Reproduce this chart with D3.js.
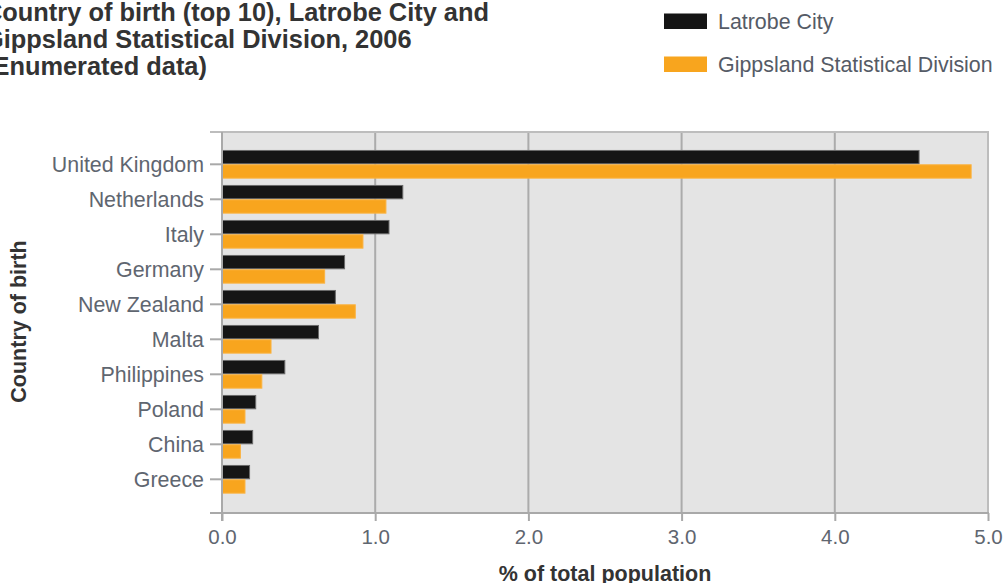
<!DOCTYPE html>
<html>
<head>
<meta charset="utf-8">
<script src="https://cdn.jsdelivr.net/npm/d3@7"></script>
<style>
  html, body { margin: 0; padding: 0; background: #fff; overflow: hidden; }
  svg { display: block; }
</style>
</head>
<body>
<svg id="chart" width="1005" height="583"></svg>
<script>
const titleLines = ["Country of birth (top 10), Latrobe City and", "Gippsland Statistical Division, 2006", "(Enumerated data)"];
const categories = ["United Kingdom", "Netherlands", "Italy", "Germany", "New Zealand", "Malta", "Philippines", "Poland", "China", "Greece"];
const seriesNames = ["Latrobe City", "Gippsland Statistical Division"];
const latrobe = [4.55, 1.18, 1.09, 0.80, 0.74, 0.63, 0.41, 0.22, 0.20, 0.18];
const gippsland = [4.89, 1.07, 0.92, 0.67, 0.87, 0.32, 0.26, 0.15, 0.12, 0.15];
const xTicks = [0, 1, 2, 3, 4, 5];
const colors = ["#151515", "#f8a51e"];
const strokes = ["#6a6a6a", "#fbb341"];
const xTitle = "% of total population";
const yTitle = "Country of birth";

const svg = d3.select("#chart");
const plot = { left: 222, right: 988, top: 132, bottom: 513 };

const x = d3.scaleLinear().domain([0, 5]).range([plot.left, plot.right]);
const y = d3.scaleBand().domain(categories).range([146.8, 496.8]).padding(0);
const ySub = d3.scaleBand().domain(seriesNames).range([0, y.bandwidth()]).paddingOuter(0.22).paddingInner(0);

const font = "'Liberation Sans', Arial, sans-serif";

// plot background
svg.append("rect")
  .attr("x", plot.left).attr("y", plot.top)
  .attr("width", plot.right - plot.left).attr("height", plot.bottom - plot.top)
  .attr("fill", "#e4e4e4");

// vertical gridlines
svg.append("g").selectAll("line").data(xTicks).join("line")
  .attr("x1", d => x(d)).attr("x2", d => x(d))
  .attr("y1", plot.top).attr("y2", plot.bottom)
  .attr("stroke", "#ababab").attr("stroke-width", 2);

// top border & right border
svg.append("line").attr("x1", 210).attr("x2", plot.right + 1)
  .attr("y1", plot.top).attr("y2", plot.top)
  .attr("stroke", "#bdbdbd").attr("stroke-width", 2);
svg.append("line").attr("x1", plot.right).attr("x2", plot.right)
  .attr("y1", plot.top).attr("y2", plot.bottom)
  .attr("stroke", "#bdbdbd").attr("stroke-width", 2);

// bars
const data = categories.map((c, i) => ({ cat: c, vals: [latrobe[i], gippsland[i]] }));
const groups = svg.append("g").selectAll("g").data(data).join("g")
  .attr("transform", d => `translate(0,${y(d.cat)})`);
groups.selectAll("rect").data(d => d.vals.map((v, j) => ({ v, s: seriesNames[j], j })))
  .join("rect")
  .attr("x", x(0) + 0.5)
  .attr("y", d => ySub(d.s) + 0.5)
  .attr("width", d => x(d.v) - x(0) - 0.5)
  .attr("height", ySub.bandwidth() - 1)
  .attr("fill", d => colors[d.j])
  .attr("stroke", d => strokes[d.j])
  .attr("stroke-width", 1);

// x axis
const xAxis = d3.axisBottom(x).tickValues(xTicks).tickFormat(d3.format(".1f")).tickSize(8).tickPadding(8);
const gx = svg.append("g").attr("transform", `translate(0,${plot.bottom})`).call(xAxis);
gx.select(".domain").remove();
gx.append("line").attr("x1", 210).attr("x2", plot.right + 1).attr("y1", 0).attr("y2", 0)
  .attr("stroke", "#a9a9a9").attr("stroke-width", 2);
gx.selectAll(".tick line").attr("stroke", "#a9a9a9").attr("stroke-width", 2);
gx.selectAll(".tick text").attr("fill", "#5f6670").attr("font-family", font).attr("font-size", 20.5);

// y axis
const yAxis = d3.axisLeft(y).tickSize(12).tickPadding(6);
const gy = svg.append("g").attr("transform", `translate(${plot.left},0)`).call(yAxis);
gy.select(".domain").remove();
gy.append("line").attr("x1", 0).attr("x2", 0).attr("y1", plot.top).attr("y2", plot.bottom + 8)
  .attr("stroke", "#a9a9a9").attr("stroke-width", 2);
gy.selectAll(".tick line").attr("stroke", "#a9a9a9").attr("stroke-width", 2);
gy.selectAll(".tick text").attr("fill", "#5f6670").attr("font-family", font).attr("font-size", 21.4)
  .attr("dy", "0.35em");

// axis titles
svg.append("text").attr("x", (plot.left + plot.right) / 2).attr("y", 581)
  .attr("text-anchor", "middle").attr("font-family", font).attr("font-weight", "bold")
  .attr("font-size", 21.5).attr("fill", "#333").text(xTitle);
svg.append("text").attr("transform", `translate(26,${(plot.top + plot.bottom) / 2 - 1}) rotate(-90)`)
  .attr("text-anchor", "middle").attr("font-family", font).attr("font-weight", "bold")
  .attr("font-size", 21.5).attr("fill", "#333").text(yTitle);

// title
svg.append("g").selectAll("text").data(titleLines).join("text")
  .attr("x", -16).attr("y", (d, i) => 21 + i * 27)
  .attr("font-family", font).attr("font-weight", "bold").attr("font-size", 25.4)
  .attr("fill", "#333").text(d => d);

// legend
const legendY = [13.5, 56.5];
const lg = svg.append("g").selectAll("g").data(seriesNames).join("g");
lg.append("rect").attr("x", 664).attr("y", (d, i) => legendY[i])
  .attr("width", 43).attr("height", 15.5).attr("fill", (d, i) => colors[i]);
lg.append("text").attr("x", 718).attr("y", (d, i) => legendY[i] + 15)
  .attr("font-family", font).attr("font-size", 21.4).attr("fill", "#555b66").text(d => d);
</script>
</body>
</html>
